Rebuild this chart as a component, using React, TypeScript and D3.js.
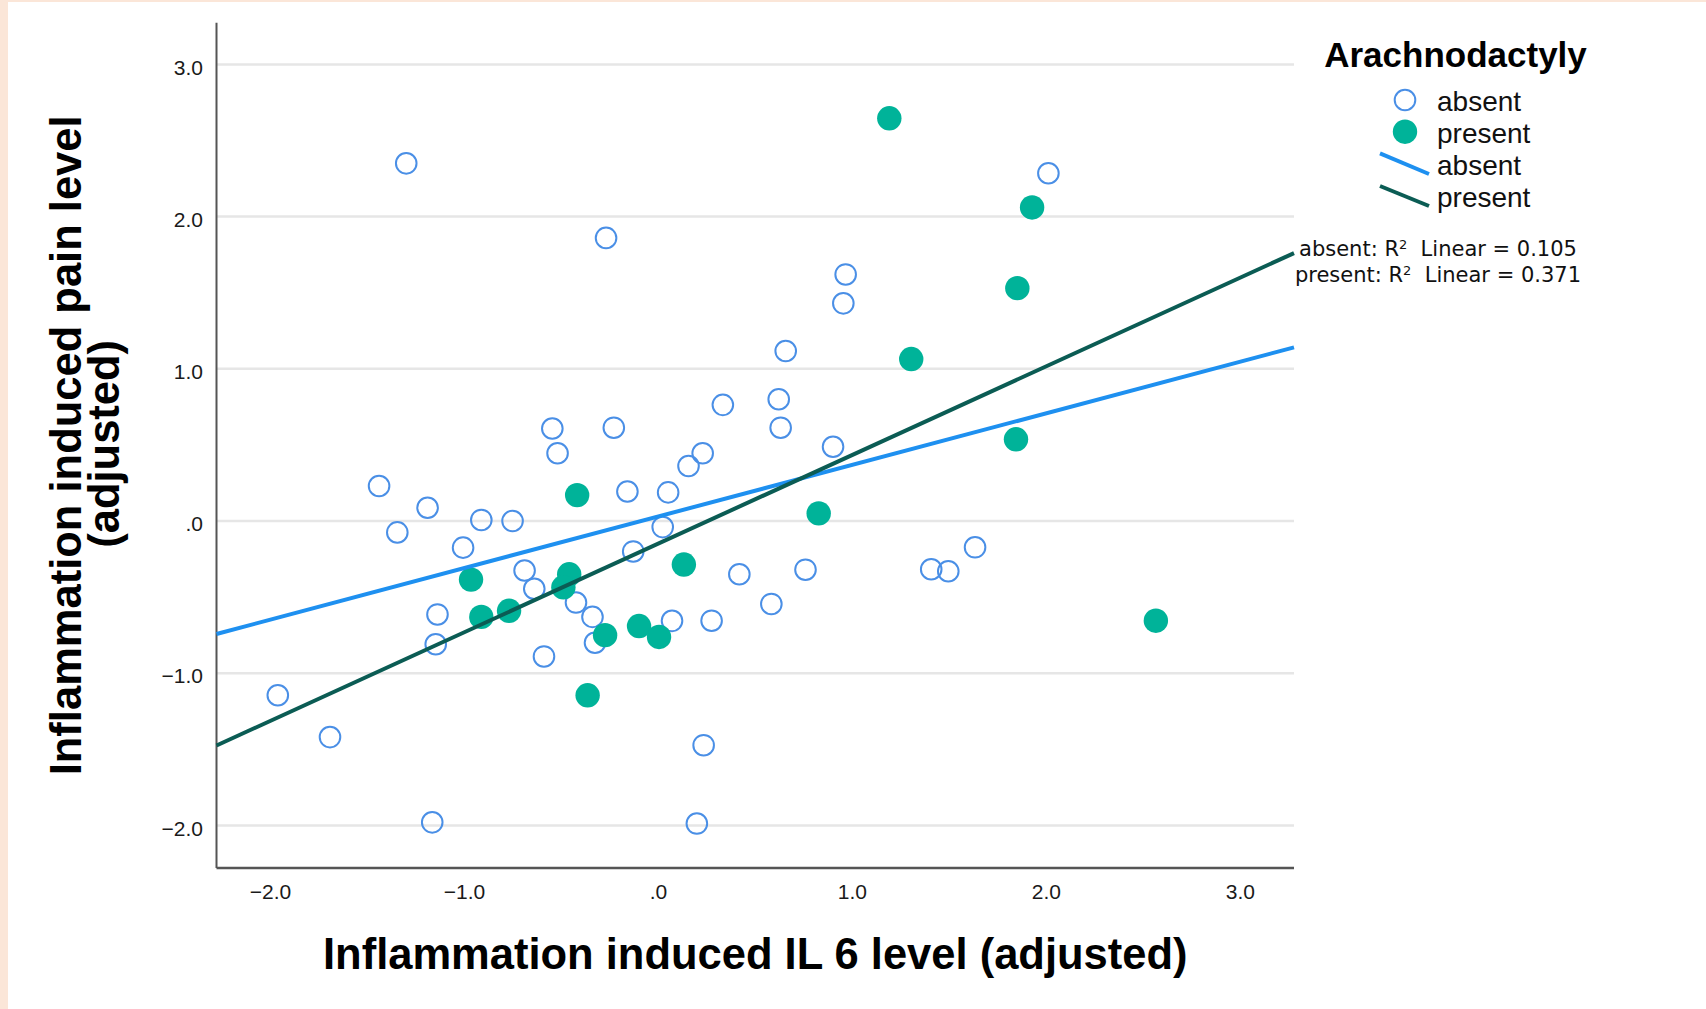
import React from "react";
import * as d3 from "d3";

// ---- data ----
const absentX = [-1.30, -0.27, 2.01, 0.965, 0.953, 0.656, 0.62, 0.63, 0.332, -0.547, -0.23, -0.52, 0.228, 0.155, 0.90, -1.44, -1.19, -1.346, -0.913, -0.752, -1.007, -0.16, 0.05, 0.022, -0.13, -0.69, -0.64, -0.425, -0.34, -0.327, -0.59, -1.139, -1.148, 0.07, 0.274, 0.417, 0.582, 0.758, 1.406, 1.494, 1.632, -1.962, -1.693, 0.233, -1.166, 0.198];
const absentY = [2.35, 1.86, 2.285, 1.62, 1.43, 1.117, 0.80, 0.613, 0.763, 0.608, 0.613, 0.445, 0.445, 0.361, 0.488, 0.23, 0.087, -0.075, 0.007, 0.0, -0.175, 0.194, 0.188, -0.04, -0.2, -0.325, -0.445, -0.536, -0.63, -0.80, -0.89, -0.614, -0.81, -0.656, -0.655, -0.35, -0.545, -0.32, -0.317, -0.33, -0.173, -1.145, -1.42, -1.473, -1.98, -1.988];
const presentX = [1.19, 1.926, 1.85, 1.303, 1.843, 0.826, 2.564, -0.419, -0.966, -0.913, -0.77, -0.46, -0.49, 0.131, -0.275, -0.1, 0.003, -0.365];
const presentY = [2.646, 2.06, 1.53, 1.064, 0.537, 0.05, -0.655, 0.17, -0.385, -0.63, -0.59, -0.35, -0.436, -0.286, -0.75, -0.69, -0.762, -1.145];

// fit lines: intercept, slope
const fitGroups = ["absent", "present"];
const fitIntercepts = [0.03, -0.148];
const fitSlopes = [0.339, 0.5825];
const r2Values = ["0.105", "0.371"];

const xTickValues = [-2, -1, 0, 1, 2, 3];
const xTickLabels = ["\u22122.0", "\u22121.0", ".0", "1.0", "2.0", "3.0"];
const yTickValues = [3, 2, 1, 0, -1, -2];
const yTickLabels = ["3.0", "2.0", "1.0", ".0", "\u22121.0", "\u22122.0"];
const xDomain = [-2.278, 3.276];
const yDomain = [-2.28, 3.274];

const legendTitle = "Arachnodactyly";
const legendLabels = ["absent", "present", "absent", "present"];
const xTitle = "Inflammation induced IL 6 level (adjusted)";
const yTitle1 = "Inflammation induced pain level";
const yTitle2 = "(adjusted)";

const OPEN_BLUE = "#4a8fe6";
const TEAL = "#00b399";
const LINE_BLUE = "#1e90f0";
const LINE_DARK = "#0b5c54";

export default function App() {
  const W = 1706, H = 1009;
  const left = 216.5, right = 1294, top = 22.7, bottom = 868;
  const x = d3.scaleLinear().domain(xDomain).range([left, right]);
  const y = d3.scaleLinear().domain(yDomain).range([bottom, top]);

  const absent = absentX.map((v, i) => [v, absentY[i]]);
  const present = presentX.map((v, i) => [v, presentY[i]]);

  const fitPaths = fitGroups.map((g, i) => {
    const pts: [number, number][] = xDomain.map((xv) => [xv, fitIntercepts[i] + fitSlopes[i] * xv]);
    return d3.line<[number, number]>().x((d) => x(d[0])).y((d) => y(d[1]))(pts) || "";
  });

  const tickFont = "'Liberation Sans', Arial, sans-serif";

  return (
    <svg width={W} height={H} style={{ position: "absolute", left: 0, top: 0 }}>
      <rect x={0} y={0} width={W} height={H} fill="#fbe6d8" />
      <rect x={8} y={2} width={W - 8} height={H - 2} fill="#ffffff" />

      {/* gridlines */}
      {yTickValues.map((v) => (
        <line key={"g" + v} x1={left} x2={right} y1={y(v)} y2={y(v)} stroke="#e6e6e6" strokeWidth={2.5} />
      ))}

      {/* axes */}
      <line x1={left} x2={left} y1={top} y2={bottom} stroke="#555" strokeWidth={2} />
      <line x1={left} x2={right} y1={bottom} y2={bottom} stroke="#555" strokeWidth={2.5} />

      {/* tick labels */}
      {yTickValues.map((v, i) => (
        <text key={"yt" + v} x={203} y={y(v) + 10.3} textAnchor="end" fontFamily={tickFont} fontSize={21} fill="#1a1a1a">
          {yTickLabels[i]}
        </text>
      ))}
      {xTickValues.map((v, i) => (
        <text key={"xt" + v} x={x(v)} y={899.3} textAnchor="middle" fontFamily={tickFont} fontSize={21} fill="#1a1a1a">
          {xTickLabels[i]}
        </text>
      ))}

      {/* axis titles */}
      <text x={(left + right) / 2} y={969.3} textAnchor="middle" fontFamily={tickFont} fontWeight="bold" fontSize={43.5} fill="#000">
        {xTitle}
      </text>
      <text transform={`translate(80.5,${(top + bottom) / 2}) rotate(-90)`} textAnchor="middle" fontFamily={tickFont} fontWeight="bold" fontSize={43.5} fill="#000">
        {yTitle1}
      </text>
      <text transform={`translate(118.5,${(top + bottom) / 2 - 1.5}) rotate(-90)`} textAnchor="middle" fontFamily={tickFont} fontWeight="bold" fontSize={43.5} fill="#000">
        {yTitle2}
      </text>

      {/* points */}
      {absent.map((p, i) => (
        <circle key={"a" + i} cx={x(p[0])} cy={y(p[1])} r={10.3} fill="none" stroke={OPEN_BLUE} strokeWidth={2} />
      ))}
      {present.map((p, i) => (
        <circle key={"p" + i} cx={x(p[0])} cy={y(p[1])} r={12.2} fill={TEAL} />
      ))}

      {/* fit lines */}
      <path d={fitPaths[0]} stroke={LINE_BLUE} strokeWidth={4} fill="none" />
      <path d={fitPaths[1]} stroke={LINE_DARK} strokeWidth={4} fill="none" />

      {/* legend */}
      <text x={1455.5} y={66.7} textAnchor="middle" fontFamily={tickFont} fontWeight="bold" fontSize={35} fill="#000">
        {legendTitle}
      </text>
      <circle cx={1405} cy={100} r={10.3} fill="none" stroke={OPEN_BLUE} strokeWidth={2} />
      <circle cx={1405} cy={131.7} r={12.2} fill={TEAL} />
      <line x1={1380} y1={153.3} x2={1429} y2={174} stroke={LINE_BLUE} strokeWidth={4} />
      <line x1={1380} y1={186} x2={1429} y2={206} stroke={LINE_DARK} strokeWidth={4} />
      {legendLabels.map((t, i) => (
        <text key={"lt" + i} x={1437} y={110.7 + i * 32.2} fontFamily={tickFont} fontSize={28} fill="#111">
          {t}
        </text>
      ))}

      {/* R² annotations */}
      {fitGroups.map((g, i) => (
        <text key={"r2" + g} x={1438} y={255.7 + i * 26} textAnchor="middle" fontFamily="'DejaVu Sans', sans-serif" fontSize={21} fill="#111">
          {g}: R<tspan fontSize={13} dy={-7}>2</tspan>
          <tspan dy={7}>{"\u00a0 Linear = " + r2Values[i]}</tspan>
        </text>
      ))}
    </svg>
  );
}
